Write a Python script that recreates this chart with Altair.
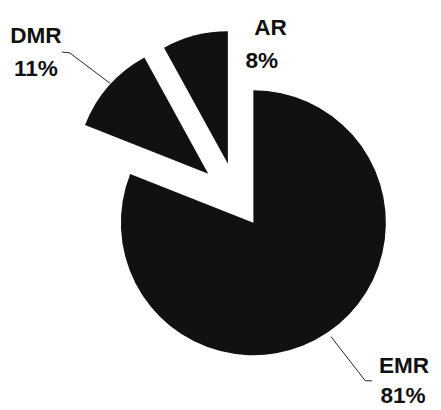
import math
import altair as alt
import pandas as pd

# ---- data ----
categories = ["EMR", "DMR", "AR"]
shares = [81, 11, 8]

# ---- style / layout (pixels in the chart frame) ----
CX, CY, R = 250, 215, 135
FILL = "#111111"
EXPLODE = {"EMR": (0, 0), "DMR": (-46, -50), "AR": (-26, -60)}
NAME_POS = {"EMR": (403.5, 368), "DMR": (28.5, 32), "AR": (267.5, 24)}
PCT_POS = {"EMR": (402.5, 399), "DMR": (28.5, 65), "AR": (258.5, 57)}
LEADERS = {
    "EMR": [(329, 331), (364, 376), (371, 376)],
    "DMR": [(104, 73), (63, 42), (55, 41)],
}
FONT = "Liberation Sans"
FSIZE = 23


def lookup(d, idx):
    expr = "0"
    for k, v in d.items():
        expr = f"(datum.category === '{k}' ? {v[idx]} : {expr})"
    return expr


df = pd.DataFrame({"category": categories, "share": shares,
                   "order": list(range(len(categories)))})

base = (
    alt.Chart(df)
    .transform_window(cum="sum(share)", sort=[alt.SortField("order")])
    .transform_joinaggregate(total="sum(share)")
    .transform_calculate(
        t0="(datum.cum - datum.share) / datum.total",
        t1="datum.cum / datum.total",
        cx=f"{CX} + " + lookup(EXPLODE, 0),
        cy=f"{CY} + " + lookup(EXPLODE, 1),
        pct="datum.share + '%'",
        nx=lookup(NAME_POS, 0),
        ny=lookup(NAME_POS, 1),
        px=lookup(PCT_POS, 0),
        py=lookup(PCT_POS, 1),
    )
)

pie = base.mark_arc(radius=R, color=FILL).encode(
    x=alt.X("cx:Q", scale=None, axis=None),
    y=alt.Y("cy:Q", scale=None, axis=None),
    theta=alt.Theta("t0:Q", scale=alt.Scale(domain=[0, 1], range=[0, 2 * math.pi])),
    theta2="t1:Q",
)

txt_kw = dict(font=FONT, fontSize=FSIZE, fontWeight="bold", color="#111111",
              align="center", baseline="alphabetic")

names = base.mark_text(**txt_kw).encode(
    x=alt.X("nx:Q", scale=None, axis=None),
    y=alt.Y("ny:Q", scale=None, axis=None),
    text="category:N",
)
pcts = base.mark_text(**txt_kw).encode(
    x=alt.X("px:Q", scale=None, axis=None),
    y=alt.Y("py:Q", scale=None, axis=None),
    text="pct:N",
)

lead_rows = []
for cat, pts in LEADERS.items():
    for i, (lx, ly) in enumerate(pts):
        lead_rows.append({"category": cat, "seq": i, "lx": lx, "ly": ly})
leaders = alt.Chart(pd.DataFrame(lead_rows)).mark_line(
    color="#222222", strokeWidth=1
).encode(
    x=alt.X("lx:Q", scale=None, axis=None),
    y=alt.Y("ly:Q", scale=None, axis=None),
    detail="category:N",
    order="seq:Q",
)

chart = (
    alt.layer(pie, leaders, names, pcts)
    .properties(width=433, height=402, autosize=alt.AutoSizeParams(type="none"),
                padding=0, background="white")
    .configure_view(stroke=None)
)

chart.save("out.html", embed_options={"renderer": "svg", "actions": False})
